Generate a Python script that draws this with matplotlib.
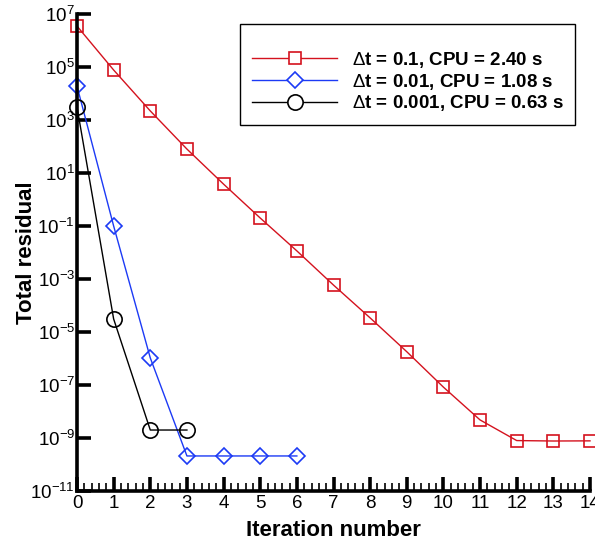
import matplotlib.pyplot as plt
from matplotlib.ticker import FixedLocator, MultipleLocator, LogFormatterMathtext

plt.rcParams['font.family'] = ['Liberation Sans', 'DejaVu Sans']
plt.rcParams['mathtext.fontset'] = 'custom'
plt.rcParams['mathtext.rm'] = 'Liberation Sans'

# residual history per time step
iter_a = [0, 1, 2, 3, 4, 5, 6, 7, 8, 9, 10, 11, 12, 13, 14]
res_a = [3.5e6, 7.7e4, 2.2e3, 8.0e1, 3.8, 2.0e-1, 1.15e-2, 5.9e-4, 3.4e-5,
         1.8e-6, 8.3e-8, 4.8e-9, 8.0e-10, 7.7e-10, 7.8e-10]
iter_b = [0, 1, 2, 3, 4, 5, 6]
res_b = [1.9e4, 1.0e-1, 1.05e-6, 2.1e-10, 2.1e-10, 2.1e-10, 2.1e-10]
iter_c = [0, 1, 2, 3]
res_c = [3.1e3, 3.1e-5, 2.0e-9, 2.0e-9]

labels = [r'$\Delta$t = 0.1, CPU = 2.40 s',
          r'$\Delta$t = 0.01, CPU = 1.08 s',
          r'$\Delta$t = 0.001, CPU = 0.63 s']

fig = plt.figure(figsize=(5.95, 5.4), dpi=100)
ax = fig.add_axes([77 / 595, 49 / 540, 513 / 595, 477 / 540])

ax.plot(iter_a, res_a, color='#d4121e', lw=1, marker='s', ms=9.2,
        mfc='none', mec='#d4121e', mew=1.2, label=labels[0], clip_on=False)
ax.plot(iter_b, res_b, color='#1c3af5', lw=1, marker='D', ms=7.8,
        mfc='none', mec='#1c3af5', mew=1.2, label=labels[1], clip_on=False)
ax.plot(iter_c, res_c, color='black', lw=1, marker='o', ms=11,
        mfc='none', mec='black', mew=1.2, label=labels[2], clip_on=False)

ax.set_yscale('log')
ax.set_xlim(0, 14)
ax.set_ylim(1e-11, 1e7)
ax.yaxis.set_major_locator(FixedLocator([10.0 ** k for k in range(-11, 8, 2)]))
ax.yaxis.set_minor_locator(FixedLocator([]))
ax.yaxis.set_major_formatter(LogFormatterMathtext())
ax.xaxis.set_major_locator(MultipleLocator(1))
ax.xaxis.set_minor_locator(MultipleLocator(0.2))

for s in ['top', 'right']:
    ax.spines[s].set_visible(False)
for s in ['left', 'bottom']:
    ax.spines[s].set_linewidth(2.6)

ax.tick_params(which='major', direction='in', length=10, width=2.6, labelsize=13.5, pad=3)
ax.tick_params(axis='y', which='major', pad=1.5)
ax.tick_params(which='minor', direction='in', length=6, width=1.2)

ax.set_xlabel('Iteration number', fontsize=16, fontweight='bold', labelpad=6)
ax.set_ylabel('Total residual', fontsize=16, fontweight='bold')
ax.yaxis.set_label_coords(-0.078, 0.5)

leg = ax.legend(loc='upper right', bbox_to_anchor=(0.971, 0.979), borderaxespad=0,
                fancybox=False, edgecolor='black', framealpha=1,
                handlelength=4.55, handletextpad=0.75,
                prop={'weight': 'bold', 'size': 13.5}, borderpad=0.63,
                labelspacing=0.1, title=' ', title_fontsize=9)
leg.get_frame().set_linewidth(1.0)
for h in leg.legend_handles:
    h.set_markerfacecolor('white')

fig.savefig('out.png', dpi=100)
